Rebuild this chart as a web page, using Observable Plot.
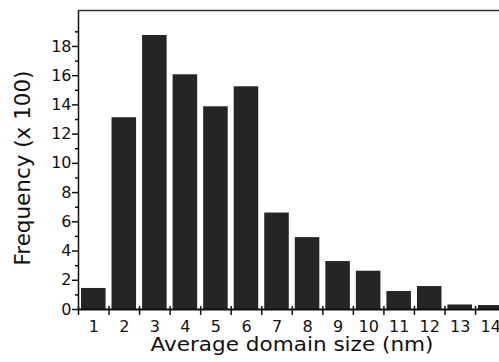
<!DOCTYPE html>
<html>
<head>
<meta charset="utf-8">
<style>
  html, body { margin: 0; padding: 0; background: #fff; overflow: hidden; }
</style>
<script src="https://cdn.jsdelivr.net/npm/d3@7"></script>
<script src="https://cdn.jsdelivr.net/npm/@observablehq/plot@0.6"></script>
</head>
<body>
<div id="chart"></div>
<script>
// Domain sizes (nm) – one bar per integer size
const sizes = [1, 2, 3, 4, 5, 6, 7, 8, 9, 10, 11, 12, 13, 14];
// Frequency (x 100)
const frequency = [1.44, 13.12, 18.75, 16.06, 13.87, 15.24, 6.60, 4.92, 3.28, 2.62, 1.23, 1.57, 0.31, 0.27];
// Axis ticks
const yMajorTicks = [0, 2, 4, 6, 8, 10, 12, 14, 16, 18];
const yMinorTicks = [1, 3, 5, 7, 9, 11, 13, 15, 17, 19];
const xTickLabels = sizes;
const xBinEdges = [0.5, 1.5, 2.5, 3.5, 4.5, 5.5, 6.5, 7.5, 8.5, 9.5, 10.5, 11.5, 12.5, 13.5];
const xTitle = "Average domain size (nm)";
const yTitle = "Frequency (x 100)";

const data = sizes.map((s, i) => ({size: s, freq: frequency[i]}));
const yMax = 20.46;
const FONT = "'DejaVu Sans', 'Liberation Sans', Arial, sans-serif";

const chart = Plot.plot({
  width: 499,
  height: 362,
  marginLeft: 78,
  marginRight: 0,
  marginTop: 10,
  marginBottom: 53,
  style: {
    fontFamily: FONT,
    fontSize: "16px",
    color: "#111",
    background: "#fff",
    overflow: "hidden"
  },
  x: {type: "linear", domain: [0.5, 14.285]},
  y: {domain: [0, yMax]},
  marks: [
    Plot.rectY(data, {
      x1: d => d.size - 0.5,
      x2: d => d.size + 0.5,
      y: "freq",
      insetLeft: 3,
      insetRight: 3,
      fill: "#252525"
    }),
    Plot.axisY({ticks: yMajorTicks, tickSize: 6, tickPadding: 1, tickFormat: d => d, label: null, strokeWidth: 1.5, fontSize: 16}),
    Plot.axisY({ticks: yMinorTicks, tickSize: 3, tickFormat: () => "", label: null, strokeWidth: 1.5}),
    Plot.axisX({ticks: xTickLabels, tickSize: 0, tickPadding: 11, tickFormat: d => d, label: null, fontSize: 16}),
    Plot.axisX({ticks: xBinEdges, tickSize: 6, tickFormat: () => "", label: null, strokeWidth: 1.5}),
    Plot.axisX({ticks: xBinEdges, tickSize: -3, tickFormat: () => "", label: null, strokeWidth: 1.5}),
    Plot.ruleY([0], {strokeWidth: 2, stroke: "#111"}),
    Plot.ruleX([0.5], {strokeWidth: 1.5, stroke: "#111"}),
    Plot.ruleY([yMax], {strokeWidth: 1.5, stroke: "#333"}),
    Plot.text([xTitle], {frameAnchor: "bottom", textAnchor: "middle", dx: 3, dy: 41, fontSize: 20, fill: "#111"}),
    Plot.text([yTitle], {frameAnchor: "left", textAnchor: "middle", rotate: -90, dx: -55, dy: 8, fontSize: 21, fill: "#111"})
  ]
});
// numeric tick labels at the reference's size; titles stretched to the reference's widths
d3.select(chart).selectAll("text").each(function () {
  const t = this.textContent.trim();
  if (/^\d+$/.test(t)) {
    this.style.fontSize = "16px";
    this.style.fontFamily = FONT;
  } else if (t === xTitle) {
    this.setAttribute("textLength", 283);
    this.setAttribute("lengthAdjust", "spacingAndGlyphs");
  } else if (t === yTitle) {
    this.setAttribute("textLength", 195);
    this.setAttribute("lengthAdjust", "spacingAndGlyphs");
  }
});
document.getElementById("chart").append(chart);
</script>
</body>
</html>
